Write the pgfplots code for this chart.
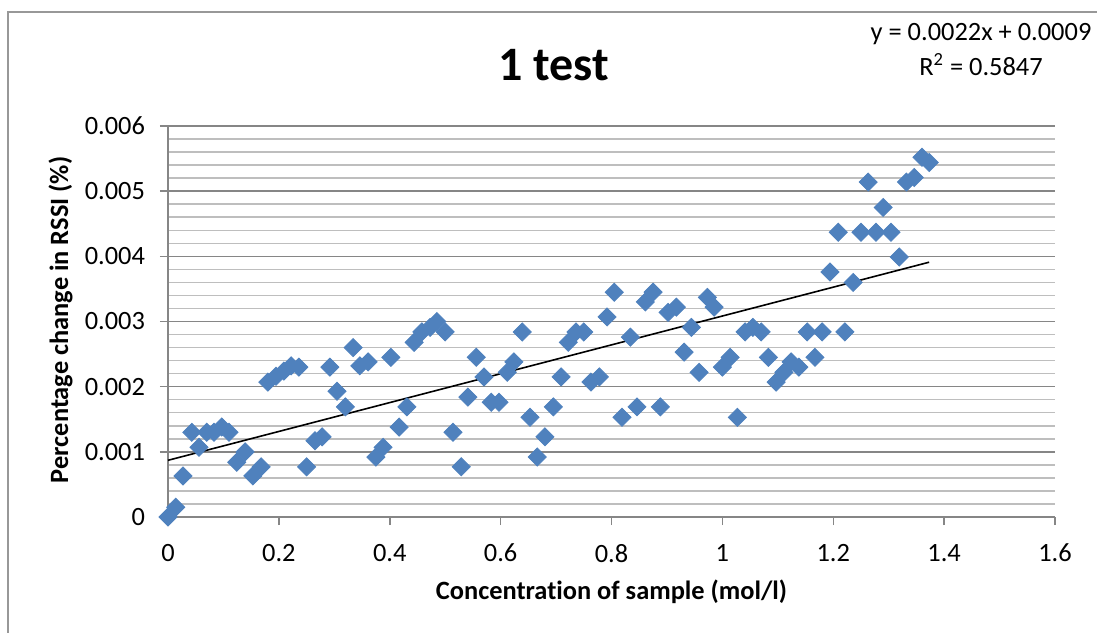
\documentclass[border=0pt]{standalone}
\usepackage{pgfplots}
\pgfplotsset{compat=1.18}
\usepackage{fontspec}
\setmainfont[Ligatures={NoCommon,NoRequired}]{Carlito}
\definecolor{exblue}{RGB}{79,129,189}
\definecolor{axgray}{RGB}{134,134,134}
\definecolor{mingray}{RGB}{190,190,190}
\begin{document}
\begin{tikzpicture}
\useasboundingbox (0,0) rectangle (548.5bp,316.5bp);
\draw[color=mingray!80!black, line width=0.75bp] (4bp,-2bp) -- (4bp,310.5bp) -- (552bp,310.5bp);
\begin{axis}[
  at={(84bp,58bp)}, anchor=south west,
  scale only axis, width=443.5bp, height=195.5bp,
  xmin=0, xmax=1.6, ymin=0, ymax=0.006,
  xtick={0,0.2,...,1.6}, ytick={0,0.001,...,0.006},
  minor y tick num=4,
  scaled y ticks=false, scaled x ticks=false,
  axis x line*=bottom, axis y line*=left,
  axis line style={color=axgray, line width=0.75bp, -},
  ymajorgrids, yminorgrids,
  major grid style={color=axgray, line width=0.75bp},
  minor grid style={color=mingray, line width=0.75bp},
  tick style={color=axgray, line width=0.75bp},
  major tick length=4bp, minor tick length=0pt,
  tick align=outside,
  /pgf/number format/assume math mode=true,
  yticklabel style={/pgf/number format/fixed, /pgf/number format/precision=3, font=\fontsize{13.2bp}{15bp}\selectfont, xshift=-4bp},
  xticklabel style={/pgf/number format/fixed, /pgf/number format/precision=1, font=\fontsize{13.2bp}{15bp}\selectfont, yshift=-6bp},
  xlabel={Concentration of sample (mol/l)},
  ylabel={Percentage change in RSSI (\%)},
  xlabel style={font=\bfseries\fontsize{13.2bp}{15bp}\selectfont, at={(axis description cs:0.5,-0.192)}, anchor=center},
  ylabel style={font=\bfseries\fontsize{13.2bp}{15bp}\selectfont, at={(axis description cs:-0.121,0.504)}, anchor=center},
  clip=false,
]
\addplot[only marks, mark=square*, mark size=3.2bp, mark options={rotate=45, fill=exblue, draw=exblue}] table {
x y
0 0
0.014 0.00015
0.027 0.00063
0.043 0.0013
0.056 0.00107
0.070 0.0013
0.083 0.0013
0.097 0.00138
0.110 0.0013
0.124 0.00084
0.139 0.0010
0.153 0.00063
0.168 0.00077
0.180 0.00207
0.195 0.00216
0.209 0.00224
0.222 0.00232
0.236 0.0023
0.250 0.00077
0.265 0.00117
0.278 0.00123
0.292 0.0023
0.305 0.00193
0.320 0.00169
0.334 0.0026
0.346 0.00232
0.361 0.00238
0.375 0.00092
0.388 0.00107
0.402 0.00245
0.417 0.00138
0.431 0.00169
0.444 0.00268
0.458 0.00284
0.473 0.00291
0.485 0.0030
0.500 0.00284
0.514 0.0013
0.529 0.00077
0.541 0.00184
0.556 0.00245
0.570 0.00215
0.583 0.00176
0.597 0.00176
0.612 0.00222
0.624 0.00238
0.639 0.00284
0.653 0.00153
0.666 0.00092
0.680 0.00123
0.695 0.00169
0.709 0.00215
0.722 0.00268
0.736 0.00284
0.750 0.00284
0.763 0.00207
0.778 0.00215
0.792 0.00307
0.805 0.00345
0.819 0.00153
0.834 0.00276
0.846 0.00169
0.861 0.0033
0.875 0.00345
0.888 0.00169
0.902 0.00314
0.917 0.00322
0.931 0.00253
0.944 0.00291
0.958 0.00222
0.973 0.00337
0.985 0.00322
1.000 0.0023
1.014 0.00245
1.027 0.00153
1.041 0.00284
1.055 0.00291
1.070 0.00284
1.083 0.00245
1.097 0.00207
1.111 0.00222
1.124 0.00238
1.138 0.0023
1.153 0.00284
1.167 0.00245
1.180 0.00284
1.194 0.00376
1.209 0.00437
1.221 0.00284
1.236 0.0036
1.250 0.00437
1.263 0.00514
1.277 0.00437
1.290 0.00475
1.304 0.00437
1.319 0.00399
1.332 0.00514
1.346 0.00521
1.360 0.00552
1.373 0.00544
};
\addplot[black, line width=0.8bp] coordinates {(0,0.00087) (1.373,0.00391)};
\node[font=\bfseries\fontsize{24bp}{27bp}\selectfont, anchor=center] at (axis description cs:0.435,1.156) {1 test};
\node[font=\fontsize{13.2bp}{15bp}\selectfont, anchor=center] at (axis description cs:0.9166,1.234) {y = 0.0022x + 0.0009};
\node[font=\fontsize{13.2bp}{15bp}\selectfont, anchor=center] at (axis description cs:0.9166,1.157) {R\textsuperscript{2} = 0.5847};
\end{axis}
\end{tikzpicture}
\end{document}
